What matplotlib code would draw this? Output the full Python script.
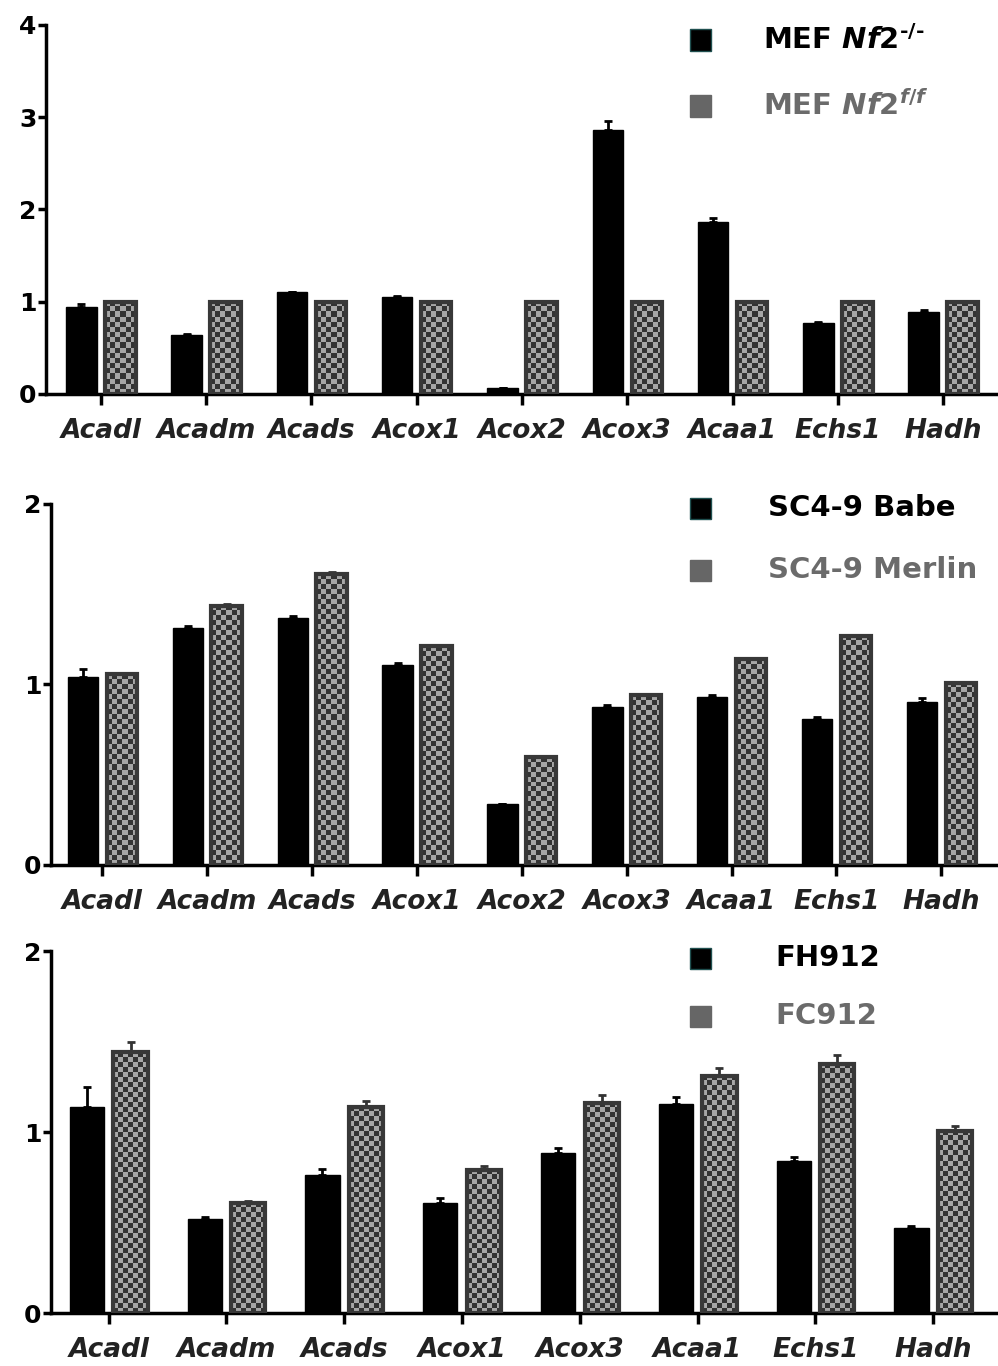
import matplotlib as mpl
mpl.use('Agg')
import matplotlib.pyplot as plt
import numpy as np

mpl.rcParams['font.family'] = ['DejaVu Sans']
mpl.rcParams['mathtext.fontset'] = 'custom'
mpl.rcParams['mathtext.it'] = 'DejaVu Sans:italic:bold'
mpl.rcParams['mathtext.rm'] = 'DejaVu Sans:bold'
mpl.rcParams['mathtext.bf'] = 'DejaVu Sans:bold'

# ---- data ----
genes_a = ['Acadl', 'Acadm', 'Acads', 'Acox1', 'Acox2', 'Acox3', 'Acaa1', 'Echs1', 'Hadh']
genes_c = ['Acadl', 'Acadm', 'Acads', 'Acox1', 'Acox3', 'Acaa1', 'Echs1', 'Hadh']

mef_ko = [0.94, 0.64, 1.10, 1.05, 0.06, 2.86, 1.86, 0.77, 0.89]
mef_ko_err = [0.04, 0.01, 0.01, 0.01, 0.005, 0.10, 0.05, 0.01, 0.02]
mef_ff = [1.0, 1.0, 1.0, 1.0, 1.0, 1.0, 1.0, 1.0, 1.0]
mef_ff_err = [0, 0, 0, 0, 0, 0, 0, 0, 0]

sc_babe = [1.04, 1.315, 1.37, 1.11, 0.34, 0.877, 0.93, 0.81, 0.90]
sc_babe_err = [0.045, 0.01, 0.01, 0.01, 0, 0.01, 0.01, 0.01, 0.025]
sc_merlin = [1.056, 1.437, 1.612, 1.213, 0.597, 0.94, 1.14, 1.27, 1.01]
sc_merlin_err = [0.01, 0.01, 0.01, 0, 0, 0, 0, 0, 0]

fh912 = [1.14, 0.52, 0.764, 0.61, 0.887, 1.155, 0.84, 0.473]
fh912_err = [0.11, 0.01, 0.03, 0.025, 0.025, 0.04, 0.025, 0.01]
fc912 = [1.44, 0.61, 1.14, 0.79, 1.163, 1.311, 1.376, 1.007]
fc912_err = [0.06, 0.01, 0.03, 0.025, 0.04, 0.045, 0.05, 0.025]

fig = plt.figure(figsize=(9.98, 13.66), dpi=100)

CELL = 5.0  # checker cell size in pixels
checker_colors = mpl.colors.ListedColormap(['#333333', '#a6a6a6'])


def panel(rect, genes, s1, e1, s2, e2, ymax, yticks, xpad):
    ax = fig.add_axes(rect)
    x = np.arange(len(genes))
    w = 0.29
    off = 0.185
    ax.set_xlim(-xpad[0], len(genes) - 1 + xpad[1])
    ax.set_ylim(0, ymax)

    ax.bar(x - off, s1, width=w, color='black', edgecolor='black', lw=1, zorder=3)
    ax.errorbar(x - off, s1, yerr=[np.zeros(len(s1)), e1], fmt='none',
                ecolor='black', elinewidth=2, capsize=3, capthick=2, zorder=2)

    # checkerboard-filled grey bars
    ppx = ax.transData.transform([(0, 0), (1, 1)])
    px_per_x = ppx[1, 0] - ppx[0, 0]
    px_per_y = ppx[1, 1] - ppx[0, 1]
    for xi, v in zip(x + off, s2):
        x0, x1 = xi - w / 2, xi + w / 2
        nc = max(1, int(round(w * px_per_x / CELL)))
        nr = max(1, int(round(v * px_per_y / CELL)))
        grid = (np.indices((nr, nc)).sum(axis=0) % 2)
        ax.imshow(grid, cmap=checker_colors, extent=(x0, x1, 0, v),
                  origin='lower', aspect='auto', interpolation='nearest', zorder=3)
    ax.bar(x + off, s2, width=w, facecolor='none', edgecolor='#383838', lw=3, zorder=4)
    ax.errorbar(x + off, s2, yerr=[np.zeros(len(s2)), e2], fmt='none',
                ecolor='#333333', elinewidth=2, capsize=3, capthick=2, zorder=2)

    ax.set_xlim(-xpad[0], len(genes) - 1 + xpad[1])
    ax.set_ylim(0, ymax)
    ax.set_xticks(x)
    ax.set_xticklabels(genes, fontsize=19, fontweight='bold', fontstyle='italic', color='#222222')
    ax.set_yticks(yticks)
    ax.set_yticklabels([str(t) for t in yticks], fontsize=18, fontweight='bold')
    ax.tick_params(axis='x', length=8, width=2.5, pad=9, direction='out')
    ax.tick_params(axis='y', length=6, width=2.5, pad=1, direction='out')
    for s in ['top', 'right']:
        ax.spines[s].set_visible(False)
    for s in ['left', 'bottom']:
        ax.spines[s].set_linewidth(2.5)
    return ax


def legend(y1, y2, t1, t2, tx):
    H = 1366.0
    W = 998.0
    for yy, c, ec in [(y1, 'black', '#1f4f4f'), (y2, '#666666', '#666666')]:
        fig.patches.append(mpl.patches.Rectangle(((700 - 10.5) / W, 1 - (yy + 10.5) / H),
                                                 21 / W, 21 / H, transform=fig.transFigure,
                                                 facecolor=c, edgecolor=ec, lw=1))
    fig.text(tx / W, 1 - y1 / H, t1, fontsize=21, fontweight='bold', color='black', va='center')
    fig.text(tx / W, 1 - y2 / H, t2, fontsize=21, fontweight='bold', color='#6b6b6b', va='center')


panel([0.0461, 0.7116, 0.9539, 0.2701], genes_a, mef_ko, mef_ko_err, mef_ff, mef_ff_err,
      4, [0, 1, 2, 3, 4], (0.52, 0.52))
panel([0.0511, 0.3668, 0.9489, 0.2643], genes_a, sc_babe, sc_babe_err, sc_merlin, sc_merlin_err,
      2, [0, 1, 2], (0.49, 0.54))
panel([0.0511, 0.0386, 0.9489, 0.2652], genes_c, fh912, fh912_err, fc912, fc912_err,
      2, [0, 1, 2], (0.49, 0.55))

legend(40, 106, r'MEF $\mathit{Nf2}^{\text{-/-}}$', r'MEF $\mathit{Nf2}^{\mathit{f/f}}$', 763)
legend(508, 570, 'SC4-9 Babe', 'SC4-9 Merlin', 768)
legend(958, 1016, 'FH912', 'FC912', 775)

fig.savefig('out.png', dpi=100)
